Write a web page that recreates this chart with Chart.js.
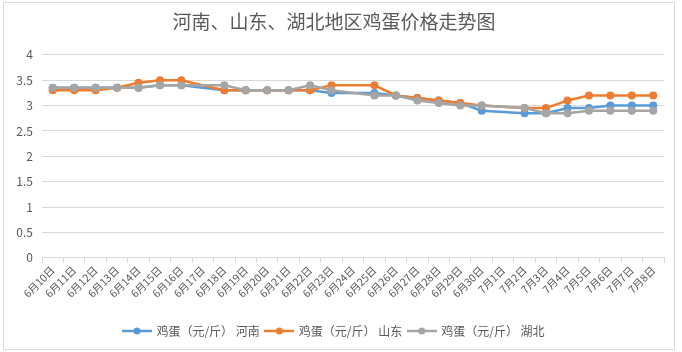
<!DOCTYPE html>
<html>
<head>
<meta charset="utf-8">
<script src="https://cdn.jsdelivr.net/npm/chart.js@4"></script>
<style>
  html, body { margin: 0; padding: 0; background: #fff; }
  #wrap { width: 682px; height: 352px; position: relative; }
</style>
</head>
<body>
<div id="wrap"><canvas id="chart"></canvas></div>
<script>
// categories
const dates = ['6月10日', '6月11日', '6月12日', '6月13日', '6月14日', '6月15日', '6月16日', '6月17日',
  '6月18日', '6月19日', '6月20日', '6月21日', '6月22日', '6月23日', '6月24日', '6月25日', '6月26日',
  '6月27日', '6月28日', '6月29日', '6月30日', '7月1日', '7月2日', '7月3日', '7月4日', '7月5日',
  '7月6日', '7月7日', '7月8日'];

// series (元/斤); null = no quote that day
const henan    = [3.35, 3.35, 3.35, 3.35, 3.35, 3.4, 3.4, null, 3.3, 3.3, 3.3, 3.3, 3.3, 3.25, null, 3.25, 3.2, 3.15, 3.1, 3.05, 2.9, null, 2.85, 2.85, 2.95, 2.95, 3.0, 3.0, 3.0];
const shandong = [3.3, 3.3, 3.3, 3.35, 3.45, 3.5, 3.5, null, 3.3, 3.3, 3.3, 3.3, 3.3, 3.4, null, 3.4, 3.2, 3.15, 3.1, 3.05, 3.0, null, 2.95, 2.95, 3.1, 3.2, 3.2, 3.2, 3.2];
const hubei    = [3.35, 3.35, 3.35, 3.35, 3.35, 3.4, 3.4, null, 3.4, 3.3, 3.3, 3.3, 3.4, 3.3, null, 3.2, 3.2, 3.1, 3.05, 3.0, 3.0, null, 2.95, 2.85, 2.85, 2.9, 2.9, 2.9, 2.9];

const seriesNames = ['鸡蛋（元/斤） 河南', '鸡蛋（元/斤） 山东', '鸡蛋（元/斤） 湖北'];
const yMin = 0, yMax = 4, yStep = 0.5;

const colors = ['#5b9bd5', '#ed7d31', '#a5a5a5'];
const FONT = "'Noto Sans CJK SC', 'Noto Sans', sans-serif";
const TEXT = '#595959';
const GRID = '#d9d9d9';

// little line-with-dot icon for the legend
function legendIcon(color) {
  const c = document.createElement('canvas');
  c.width = 30; c.height = 10;
  const g = c.getContext('2d');
  g.strokeStyle = color; g.lineWidth = 2.5;
  g.beginPath(); g.moveTo(0, 5); g.lineTo(30, 5); g.stroke();
  g.fillStyle = color;
  g.beginPath(); g.arc(15, 5, 3.5, 0, Math.PI * 2); g.fill();
  return c;
}

function makeSet(label, data, color, order) {
  return {
    label, data, order,
    borderColor: color,
    backgroundColor: color,
    borderWidth: 2.5,
    pointRadius: 4,
    pointHoverRadius: 4,
    pointBackgroundColor: color,
    pointBorderWidth: 0,
    spanGaps: true,
    tension: 0
  };
}

// outer frame
const framePlugin = {
  id: 'frame',
  beforeDraw(chart) {
    const ctx = chart.ctx;
    ctx.save();
    ctx.fillStyle = '#fff';
    ctx.fillRect(0, 0, chart.width, chart.height);
    ctx.strokeStyle = GRID;
    ctx.lineWidth = 1;
    ctx.strokeRect(3.5, 2.5, 671, 347);
    ctx.restore();
  }
};

new Chart(document.getElementById('chart'), {
  type: 'line',
  data: {
    labels: dates,
    datasets: [
      makeSet(seriesNames[0], henan, colors[0], 3),
      makeSet(seriesNames[1], shandong, colors[1], 2),
      makeSet(seriesNames[2], hubei, colors[2], 1)
    ]
  },
  options: {
    responsive: true,
    maintainAspectRatio: false,
    animation: false,
    layout: { padding: { left: 4, right: 18, top: 0, bottom: 5 } },
    scales: {
      x: {
        offset: true,
        afterFit(s) { s.height += 18; },
        grid: { display: true, drawOnChartArea: false, drawTicks: true, tickLength: 5, offset: true, color: GRID },
        border: { display: true, color: GRID },
        ticks: { autoSkip: false, minRotation: 45, maxRotation: 45, padding: 1, color: TEXT, font: { family: FONT, size: 10.5 } }
      },
      y: {
        min: yMin,
        max: yMax,
        afterFit(s) { s.width = 38; },
        grid: { color: GRID, drawTicks: false },
        border: { display: false },
        ticks: {
          stepSize: yStep, padding: 9, color: TEXT, font: { family: FONT, size: 12 },
          callback: v => String(+v.toFixed(1))
        }
      }
    },
    plugins: {
      title: {
        display: true,
        text: '河南、山东、湖北地区鸡蛋价格走势图',
        color: TEXT,
        font: { family: FONT, size: 19, weight: 'normal' },
        padding: { top: 10, bottom: 22 }
      },
      legend: {
        position: 'bottom',
        labels: {
          usePointStyle: true,
          pointStyleWidth: 27,
          boxHeight: 10,
          padding: 6,
          color: TEXT,
          font: { family: FONT, size: 12 },
          generateLabels(chart) {
            return chart.data.datasets.map((ds, i) => ({
              text: ds.label,
              pointStyle: legendIcon(colors[i]),
              fillStyle: colors[i],
              strokeStyle: colors[i],
              lineWidth: 0,
              fontColor: TEXT,
              hidden: false,
              datasetIndex: i
            }));
          }
        }
      },
      tooltip: { enabled: false }
    }
  },
  plugins: [framePlugin]
});
</script>
</body>
</html>
